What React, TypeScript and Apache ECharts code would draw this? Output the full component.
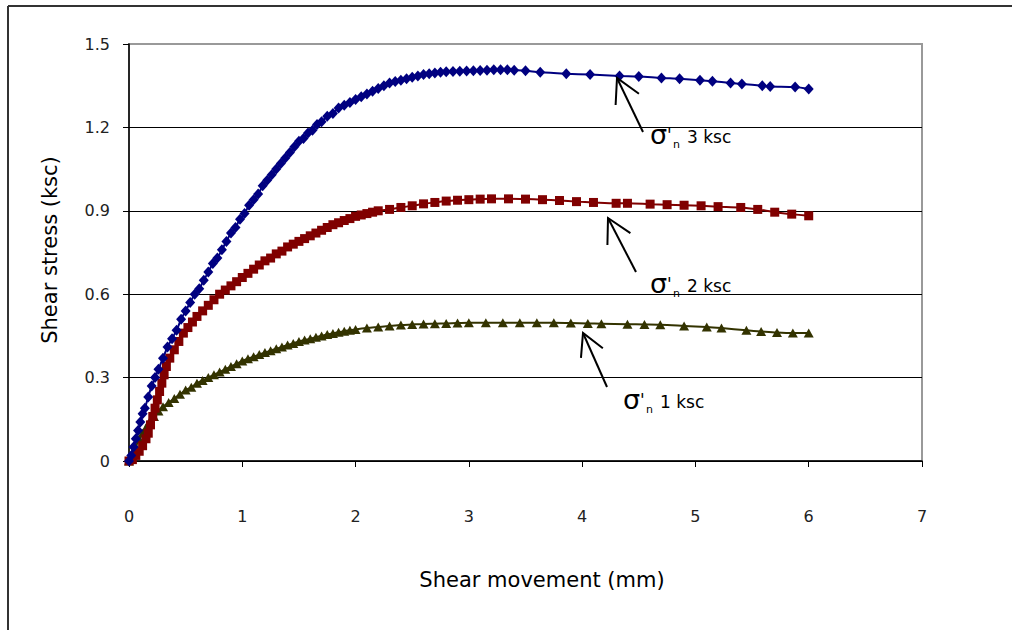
import React, { useEffect, useRef } from "react";
import * as echarts from "echarts";

// ---- data ----
const xTickLabels = ["0", "1", "2", "3", "4", "5", "6", "7"];
const yTickLabels = ["0", "0.3", "0.6", "0.9", "1.2", "1.5"];

const x3 = [0, 0.02, 0.04, 0.06, 0.08, 0.1, 0.12, 0.14, 0.17, 0.2, 0.23, 0.26, 0.3, 0.34, 0.38, 0.42, 0.46, 0.5, 0.54, 0.58, 0.62, 0.66, 0.7, 0.74, 0.78, 0.82, 0.86, 0.9, 0.94, 0.98, 1.02, 1.06, 1.1, 1.14, 1.18, 1.22, 1.26, 1.3, 1.34, 1.38, 1.42, 1.46, 1.5, 1.54, 1.58, 1.62, 1.66, 1.7, 1.75, 1.8, 1.85, 1.9, 1.95, 2.0, 2.05, 2.1, 2.15, 2.2, 2.25, 2.3, 2.35, 2.4, 2.45, 2.5, 2.55, 2.6, 2.65, 2.7, 2.75, 2.8, 2.86, 2.92, 2.98, 3.04, 3.1, 3.16, 3.22, 3.28, 3.34, 3.4, 3.5, 3.63, 3.86, 4.07, 4.33, 4.5, 4.7, 4.86, 5.04, 5.15, 5.31, 5.41, 5.59, 5.66, 5.88, 6.0];
const y3 = [0, 0.02, 0.05, 0.08, 0.11, 0.14, 0.17, 0.19, 0.23, 0.27, 0.3, 0.33, 0.37, 0.41, 0.44, 0.47, 0.51, 0.54, 0.57, 0.6, 0.62, 0.65, 0.68, 0.71, 0.73, 0.76, 0.79, 0.82, 0.84, 0.87, 0.89, 0.92, 0.94, 0.96, 0.99, 1.01, 1.03, 1.05, 1.07, 1.09, 1.11, 1.13, 1.15, 1.16, 1.18, 1.19, 1.21, 1.22, 1.24, 1.25, 1.27, 1.28, 1.29, 1.3, 1.31, 1.32, 1.33, 1.34, 1.35, 1.36, 1.365, 1.37, 1.375, 1.38, 1.385, 1.39, 1.393, 1.396, 1.398, 1.4, 1.401, 1.402, 1.403, 1.404, 1.405, 1.406, 1.407, 1.407, 1.407, 1.406, 1.404, 1.398, 1.393, 1.39, 1.385, 1.383, 1.378, 1.375, 1.37, 1.366, 1.36, 1.356, 1.35, 1.347, 1.345, 1.338];

const x2 = [0, 0.03, 0.06, 0.09, 0.12, 0.15, 0.17, 0.19, 0.21, 0.23, 0.25, 0.27, 0.29, 0.31, 0.33, 0.36, 0.4, 0.44, 0.48, 0.52, 0.56, 0.6, 0.65, 0.7, 0.75, 0.8, 0.85, 0.9, 0.95, 1.0, 1.05, 1.1, 1.15, 1.2, 1.25, 1.3, 1.35, 1.4, 1.45, 1.5, 1.55, 1.6, 1.65, 1.7, 1.75, 1.8, 1.85, 1.9, 1.95, 2.0, 2.05, 2.1, 2.15, 2.2, 2.3, 2.4, 2.5, 2.6, 2.7, 2.8, 2.9, 3.0, 3.1, 3.2, 3.35, 3.5, 3.65, 3.8, 3.95, 4.1, 4.3, 4.4, 4.6, 4.75, 4.9, 5.05, 5.2, 5.4, 5.55, 5.7, 5.85, 6.0];
const y2 = [0, 0.005, 0.02, 0.035, 0.055, 0.08, 0.1, 0.13, 0.16, 0.19, 0.22, 0.25, 0.28, 0.31, 0.34, 0.37, 0.4, 0.43, 0.46, 0.48, 0.5, 0.52, 0.54, 0.56, 0.58, 0.6, 0.615, 0.63, 0.645, 0.66, 0.675, 0.69, 0.705, 0.72, 0.73, 0.745, 0.755, 0.77, 0.78, 0.79, 0.8, 0.81, 0.82, 0.83, 0.84, 0.85, 0.857, 0.865, 0.872, 0.88, 0.885, 0.89, 0.895, 0.9, 0.905, 0.912, 0.918, 0.925, 0.93, 0.935, 0.938, 0.94, 0.942, 0.943, 0.943, 0.942, 0.94, 0.937, 0.933, 0.93, 0.927, 0.927, 0.924, 0.922, 0.92, 0.918, 0.915, 0.912, 0.905, 0.895, 0.888, 0.882];

const x1 = [0, 0.03, 0.06, 0.09, 0.12, 0.15, 0.18, 0.22, 0.26, 0.3, 0.35, 0.4, 0.45, 0.5, 0.55, 0.6, 0.65, 0.7, 0.75, 0.8, 0.85, 0.9, 0.95, 1.0, 1.05, 1.1, 1.15, 1.2, 1.25, 1.3, 1.35, 1.4, 1.45, 1.5, 1.55, 1.6, 1.65, 1.7, 1.75, 1.8, 1.85, 1.9, 1.95, 2.0, 2.1, 2.2, 2.3, 2.4, 2.5, 2.6, 2.7, 2.8, 2.9, 3.0, 3.15, 3.3, 3.45, 3.6, 3.75, 3.9, 4.05, 4.17, 4.4, 4.55, 4.69, 4.9, 5.1, 5.23, 5.45, 5.58, 5.72, 5.86, 6.0];
const y1 = [0, 0.02, 0.05, 0.08, 0.1, 0.12, 0.14, 0.16, 0.18, 0.195, 0.21, 0.225, 0.24, 0.255, 0.265, 0.28, 0.29, 0.3, 0.31, 0.32, 0.33, 0.34, 0.35, 0.36, 0.368, 0.375, 0.383, 0.39, 0.397, 0.404, 0.41, 0.417, 0.423, 0.43, 0.435, 0.44, 0.445, 0.45, 0.455, 0.459, 0.463, 0.467, 0.47, 0.473, 0.478, 0.482, 0.486, 0.489, 0.491, 0.493, 0.494, 0.495, 0.496, 0.497, 0.497, 0.497, 0.497, 0.497, 0.497, 0.496, 0.495, 0.494, 0.492, 0.491, 0.49, 0.486, 0.482, 0.478, 0.47, 0.466, 0.462, 0.46, 0.46];

const seriesNames = ["σ'n 1 ksc", "σ'n 2 ksc", "σ'n 3 ksc"];
const labelNumbers = ["1 ksc", "2 ksc", "3 ksc"];

const zip = (xs: number[], ys: number[]) => xs.map((x, i) => [x, ys[i]]);

const FONT = "DejaVu Sans, Verdana, sans-serif";

function arrow(tip: [number, number], tail: [number, number], headLen: number) {
  const dx = tail[0] - tip[0];
  const dy = tail[1] - tip[1];
  const ang = Math.atan2(dy, dx);
  const a1 = ang + 0.5;
  const a2 = ang - 0.5;
  const p1 = [tip[0] + headLen * Math.cos(a1), tip[1] + headLen * Math.sin(a1)];
  const p2 = [tip[0] + headLen * Math.cos(a2), tip[1] + headLen * Math.sin(a2)];
  const st = { stroke: "#000", lineWidth: 2, fill: null };
  return [
    { type: "line", shape: { x1: tail[0], y1: tail[1], x2: tip[0], y2: tip[1] }, style: st, z: 20 },
    { type: "polyline", shape: { points: [p1, tip, p2] }, style: st, z: 20 },
  ];
}

function sigmaLabel(x: number, baseline: number, text: string) {
  return [
    { type: "text", x, y: baseline - 9, style: { text: "σ", font: `27px ${FONT}`, fill: "#000", verticalAlign: "middle", align: "left" }, z: 20 },
    { type: "text", x: x + 17, y: baseline - 8, style: { text: "'", font: `17px ${FONT}`, fill: "#000", verticalAlign: "middle", align: "left" }, z: 20 },
    { type: "text", x: x + 23, y: baseline + 1, style: { text: "n", font: `11px ${FONT}`, fill: "#000", verticalAlign: "middle", align: "left" }, z: 20 },
    { type: "text", x: x + 37, y: baseline - 6, style: { text, font: `17px ${FONT}`, fill: "#000", verticalAlign: "middle", align: "left" }, z: 20 },
  ];
}

export default function App() {
  const ref = useRef<HTMLDivElement>(null);
  useEffect(() => {
    if (!ref.current) return;
    const chart = echarts.init(ref.current, undefined, { renderer: "svg" });
    const option: any = {
      animation: false,
      backgroundColor: "#fff",
      grid: { left: 129, top: 44, width: 793, height: 417, show: true, borderColor: "#999", borderWidth: 2, backgroundColor: "transparent" },
      xAxis: {
        type: "value",
        min: 0,
        max: 7,
        interval: 1,
        axisLine: { show: true, onZero: false, lineStyle: { color: "#000", width: 1.5 } },
        axisTick: { show: true, inside: false, length: 6, lineStyle: { color: "#000", width: 1 } },
        axisLabel: { margin: 47, fontSize: 16, fontFamily: FONT, color: "#222", formatter: (v: number) => xTickLabels[Math.round(v)] ?? "" },
        splitLine: { show: false },
      },
      yAxis: {
        type: "value",
        min: 0,
        max: 1.5,
        interval: 0.3,
        axisLine: { show: true, onZero: false, lineStyle: { color: "#000", width: 1.5 } },
        axisTick: { show: true, inside: false, length: 6, lineStyle: { color: "#000", width: 1 } },
        axisLabel: { margin: 19, fontSize: 16, fontFamily: FONT, color: "#222", formatter: (v: number) => yTickLabels[Math.round(v / 0.3)] ?? "" },
        splitLine: { show: true, lineStyle: { color: ["#000", "#000", "#000", "#000", "#000", "#999"], width: 1 } },
      },
      series: [
        { name: seriesNames[0], type: "line", data: zip(x1, y1), smooth: 0.3, symbol: "triangle", symbolSize: [10, 9], lineStyle: { color: "#333300", width: 2 }, itemStyle: { color: "#333300" }, z: 3 },
        { name: seriesNames[1], type: "line", data: zip(x2, y2), smooth: 0.3, symbol: "rect", symbolSize: 9, lineStyle: { color: "#800000", width: 2 }, itemStyle: { color: "#800000" }, z: 4 },
        { name: seriesNames[2], type: "line", data: zip(x3, y3), smooth: 0.3, symbol: "diamond", symbolSize: [10, 11], lineStyle: { color: "#000080", width: 2 }, itemStyle: { color: "#000080" }, z: 5 },
      ],
      graphic: [
        { type: "line", shape: { x1: 8, y1: 6, x2: 1012, y2: 6 }, style: { stroke: "#333", lineWidth: 2 } },
        { type: "line", shape: { x1: 8, y1: 6, x2: 8, y2: 630 }, style: { stroke: "#333", lineWidth: 2 } },
        { type: "text", x: 50, y: 250, rotation: Math.PI / 2, style: { text: "Shear stress (ksc)", font: `21px ${FONT}`, fill: "#000", align: "center", verticalAlign: "middle" } },
        { type: "text", x: 542, y: 580, style: { text: "Shear movement (mm)", font: `21px ${FONT}`, fill: "#000", align: "center", verticalAlign: "middle" } },
        ...arrow([617, 78], [643, 132], 27),
        ...arrow([608, 218], [636, 272], 27),
        ...arrow([583, 333], [607, 387], 25),
        ...sigmaLabel(650, 143, labelNumbers[2]),
        ...sigmaLabel(650, 292, labelNumbers[1]),
        ...sigmaLabel(623, 408, labelNumbers[0]),
      ],
    };
    chart.setOption(option);
    return () => chart.dispose();
  }, []);
  return <div ref={ref} style={{ position: "absolute", left: 0, top: 0, width: 1012, height: 630 }} />;
}
